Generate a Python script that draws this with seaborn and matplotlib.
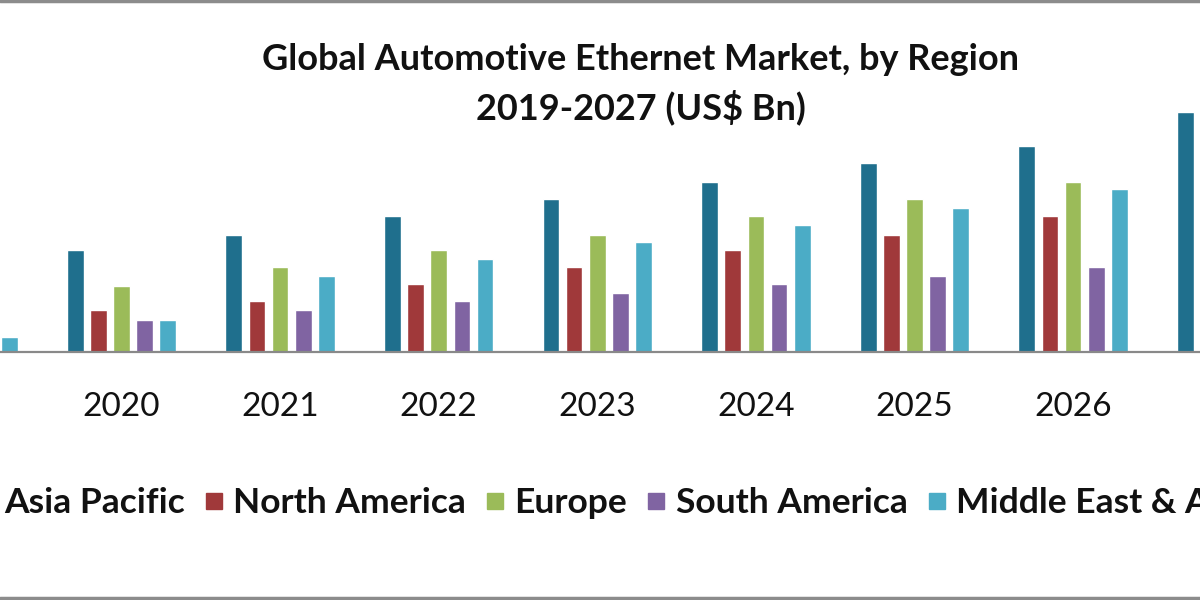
import pandas as pd
import matplotlib
matplotlib.use("Agg")
import matplotlib.pyplot as plt
from matplotlib.lines import Line2D
import seaborn as sns

# data (heights, US$ Bn)
years = ["2019", "2020", "2021", "2022", "2023", "2024", "2025", "2026", "2027"]
regions = ["Asia Pacific", "North America", "Europe", "South America", "Middle East & Africa"]
asia_pacific = [5.0, 6.0, 6.9, 8.0, 9.0, 10.0, 11.1, 12.1, 14.1]
north_america = [2.0, 2.5, 3.0, 4.0, 5.0, 6.0, 6.9, 8.0, 9.0]
europe = [2.9, 3.9, 5.0, 6.0, 6.9, 8.0, 9.0, 10.0, 11.1]
south_america = [1.5, 1.9, 2.5, 3.0, 3.5, 4.0, 4.5, 5.0, 5.5]
middle_east_africa = [0.9, 1.9, 4.5, 5.5, 6.5, 7.5, 8.5, 9.6, 10.6]
colors = ["#1f6f8d", "#a0393a", "#9bbb59", "#8064a2", "#4bacc6"]

series = [asia_pacific, north_america, europe, south_america, middle_east_africa]
rows = []
for region, vals in zip(regions, series):
    for y, v in zip(years, vals):
        rows.append({"Year": y, "Region": region, "Value": v})
df = pd.DataFrame(rows)

sns.set_style("white")
plt.rcParams["font.family"] = ["Lato", "DejaVu Sans"]

fig = plt.figure(figsize=(12, 6), dpi=100)
ax = fig.add_axes([0, 0.4133, 1, 0.42])
sns.barplot(data=df, x="Year", y="Value", hue="Region", hue_order=regions,
            palette=colors, width=0.73, gap=0.28, saturation=1,
            legend=False, ax=ax)

ax.set_xlim(0.234, 7.80)
ax.set_ylim(0, 252 / 17)
for side in ["top", "left", "right"]:
    ax.spines[side].set_visible(False)
ax.spines["bottom"].set_color("#898989")
ax.spines["bottom"].set_linewidth(1.6)
ax.set_yticks([])
ax.set_xlabel("")
ax.set_ylabel("")
ax.tick_params(axis="x", length=0, labelsize=24, pad=29, labelcolor="#111111")

fig.text(0.534, 1 - 84 / 600, "Global Automotive Ethernet Market, by Region\n2019-2027 (US$ Bn)",
         ha="center", va="center", fontsize=26, fontweight="bold", linespacing=1.45,
         color="#111111")

handles = [Line2D([], [], marker="s", linestyle="none", markersize=12,
                  markerfacecolor=c, markeredgecolor=c) for c in colors]
fig.legend(handles, regions, loc="center left", bbox_to_anchor=(-0.047, 1 - 503 / 600),
           ncol=5, frameon=False, prop={"size": 25.5, "weight": "bold"},
           handlelength=0.5, handletextpad=0.3, columnspacing=0.57,
           labelcolor="#111111")

# thin gray frame lines top and bottom
fig.add_artist(Line2D([0, 1], [0.998, 0.998], color="#8c8c8c", linewidth=2.5))
fig.add_artist(Line2D([0, 1], [0.003, 0.003], color="#8c8c8c", linewidth=2.5))

fig.savefig("out.png", dpi=100)
